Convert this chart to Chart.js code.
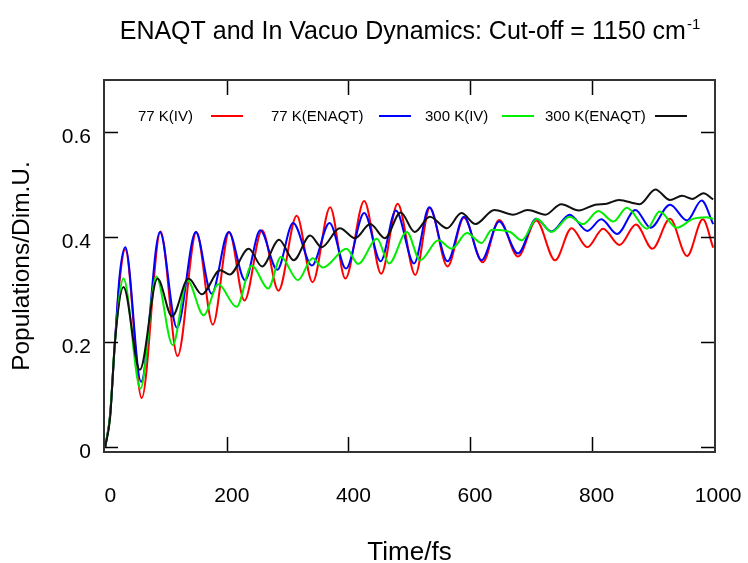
<!DOCTYPE html>
<html>
<head>
<meta charset="utf-8">
<title>ENAQT and In Vacuo Dynamics</title>
<script src="https://cdn.jsdelivr.net/npm/chart.js@4.4.1/dist/chart.umd.min.js"></script>
<style>
    html, body { margin: 0; padding: 0; background: #ffffff; }
    #wrap { width: 748px; height: 563px; position: relative; }
</style>
</head>
<body>
<div id="wrap"><canvas id="dynChart"></canvas></div>
<script>
// values (time in fs, population)
const xTicks = [0, 200, 400, 600, 800, 1000];
const yTicks = [0, 0.2, 0.4, 0.6];
const seriesLabels = ['77 K(IV)', '77 K(ENAQT)', '300 K(IV)', '300 K(ENAQT)'];
const seriesColors = ['#ff0000', '#0000ff', '#00ee00', '#111111'];

// 77 K, in vacuo
const ivColdT = [0, 8, 16, 24, 33, 60, 91, 119, 150, 177, 204, 229, 258, 285, 315, 341, 370, 395, 426, 454,
    481, 510, 534, 563, 590, 621, 648, 679, 709, 740, 767, 793, 819, 846, 873, 900, 929, 957, 983, 1000];
const ivColdP = [0, 0.06, 0.2, 0.32, 0.377, 0.093, 0.411, 0.173, 0.41, 0.233, 0.41, 0.279, 0.413, 0.298, 0.441, 0.314, 0.457, 0.321, 0.469, 0.33,
    0.464, 0.328, 0.456, 0.344, 0.437, 0.352, 0.433, 0.363, 0.432, 0.356, 0.417, 0.381, 0.416, 0.385, 0.424, 0.378, 0.435, 0.364, 0.434, 0.38];

// 77 K, ENAQT
const enColdT = [0, 8, 16, 24, 33, 59, 90, 118, 149, 175, 203, 230, 255, 283, 309, 340, 369, 396, 426, 453,
    478, 508, 533, 563, 590, 619, 648, 679, 709, 734, 764, 793, 816, 842, 872, 897, 929, 957, 981, 1000];
const enColdP = [0, 0.06, 0.2, 0.33, 0.381, 0.124, 0.41, 0.227, 0.41, 0.292, 0.41, 0.318, 0.413, 0.338, 0.427, 0.346, 0.427, 0.34, 0.446, 0.354,
    0.451, 0.35, 0.457, 0.354, 0.439, 0.356, 0.43, 0.369, 0.435, 0.411, 0.443, 0.412, 0.434, 0.406, 0.452, 0.418, 0.462, 0.432, 0.47, 0.425];

// 300 K, in vacuo
const ivHotT = [0, 8, 16, 30, 58, 84, 111, 135, 162, 186, 216, 241, 268, 289, 317, 341, 358, 397, 416, 447, 467,
    496, 518, 548, 570, 595, 619, 636, 666, 685, 710, 734, 764, 786, 811, 836, 858, 891, 912, 940, 967, 989, 1000];
const ivHotP = [0, 0.06, 0.2, 0.321, 0.111, 0.325, 0.194, 0.318, 0.251, 0.31, 0.267, 0.346, 0.302, 0.362, 0.318, 0.36, 0.342, 0.378, 0.349, 0.397, 0.35,
    0.41, 0.356, 0.394, 0.378, 0.408, 0.389, 0.414, 0.41, 0.394, 0.435, 0.41, 0.439, 0.425, 0.45, 0.43, 0.456, 0.416, 0.449, 0.418, 0.435, 0.438, 0.435];

// 300 K, ENAQT
const enHotT = [0, 8, 16, 30, 57, 86, 110, 137, 159, 189, 205, 236, 258, 286, 310, 337, 356, 386, 411, 436, 460, 486,
    509, 534, 562, 586, 609, 640, 671, 695, 724, 750, 779, 806, 825, 845, 879, 905, 929, 949, 966, 984, 1000];
const enHotP = [0, 0.055, 0.2, 0.305, 0.147, 0.321, 0.249, 0.321, 0.291, 0.337, 0.329, 0.378, 0.344, 0.395, 0.356, 0.403, 0.381, 0.417, 0.398, 0.425, 0.398, 0.447,
    0.41, 0.439, 0.417, 0.446, 0.425, 0.452, 0.443, 0.452, 0.443, 0.463, 0.451, 0.462, 0.464, 0.471, 0.463, 0.491, 0.471, 0.479, 0.473, 0.484, 0.472];

const seriesT = [ivColdT, enColdT, ivHotT, enHotT];
const seriesP = [ivColdP, enColdP, ivHotP, enHotP];

const FONT = '"Liberation Sans", Arial, Helvetica, sans-serif';

function toPoints(ts, ps) {
    return ts.map((t, i) => ({ x: t, y: ps[i] }));
}

// title with superscript, drawn like gnuplot does
const titlePlugin = {
    id: 'gnuTitle',
    afterDraw(chart) {
        const ctx = chart.ctx;
        const area = chart.chartArea;
        const main = 'ENAQT and In Vacuo Dynamics: Cut-off = 1150 cm';
        const sup = '-1';
        ctx.save();
        ctx.fillStyle = '#000';
        ctx.textBaseline = 'alphabetic';
        ctx.font = '25px ' + FONT;
        const wMain = ctx.measureText(main).width;
        ctx.font = '15px ' + FONT;
        const wSup = ctx.measureText(sup).width;
        let x = (area.left + area.right) / 2 - (wMain + wSup) / 2;
        ctx.font = '25px ' + FONT;
        ctx.fillText(main, x, 39);
        ctx.font = '15px ' + FONT;
        ctx.fillText(sup, x + wMain + 1, 29);
        ctx.restore();
    }
};

// key: text first, then the line sample
const keyPlugin = {
    id: 'gnuKey',
    afterDraw(chart) {
        const ctx = chart.ctx;
        const textX = [138, 271, 425, 545];
        const lineX = [211, 379, 502, 655];
        const y = 116;
        ctx.save();
        ctx.font = '15px ' + FONT;
        ctx.textBaseline = 'middle';
        chart.data.datasets.forEach((ds, i) => {
            ctx.fillStyle = '#000';
            ctx.fillText(ds.label, textX[i], y + 1);
            ctx.strokeStyle = ds.borderColor;
            ctx.lineWidth = 2;
            ctx.beginPath();
            ctx.moveTo(lineX[i], y);
            ctx.lineTo(lineX[i] + 32, y);
            ctx.stroke();
        });
        ctx.restore();
    }
};

// border box and inward ticks on all four sides
const framePlugin = {
    id: 'gnuFrame',
    afterDatasetsDraw(chart) {
        const ctx = chart.ctx;
        const a = chart.chartArea;
        const xs = chart.scales.x;
        const ys = chart.scales.y;
        ctx.save();
        ctx.strokeStyle = '#000';
        ctx.lineWidth = 1.5;
        ctx.beginPath();
        xTicks.forEach(v => {
            if (v <= 0 || v >= 1000) return;
            const px = Math.round(xs.getPixelForValue(v)) + 0.5;
            ctx.moveTo(px, a.bottom);
            ctx.lineTo(px, a.bottom - 15);
            ctx.moveTo(px, a.top);
            ctx.lineTo(px, a.top + 15);
        });
        yTicks.forEach(v => {
            const py = Math.round(ys.getPixelForValue(v)) + 0.5;
            ctx.moveTo(a.left, py);
            ctx.lineTo(a.left + 14, py);
            ctx.moveTo(a.right, py);
            ctx.lineTo(a.right - 14, py);
        });
        ctx.stroke();
        ctx.strokeStyle = '#333';
        ctx.lineWidth = 2;
        ctx.strokeRect(a.left, a.top, a.right - a.left, a.bottom - a.top);
        ctx.restore();
    }
};

const datasets = seriesLabels.map((label, i) => ({
    label: label,
    data: toPoints(seriesT[i], seriesP[i]),
    borderColor: seriesColors[i],
    borderWidth: 2,
    pointRadius: 0,
    fill: false,
    cubicInterpolationMode: 'monotone',
    order: 3 - i
}));

new Chart(document.getElementById('dynChart'), {
    type: 'line',
    data: { datasets: datasets },
    plugins: [titlePlugin, keyPlugin, framePlugin],
    options: {
        responsive: true,
        maintainAspectRatio: false,
        animation: false,
        layout: { padding: { top: 80, right: 33, bottom: 0, left: 0 } },
        plugins: {
            legend: { display: false },
            tooltip: { enabled: false },
            title: { display: false }
        },
        scales: {
            x: {
                type: 'linear',
                min: -2,
                max: 1003,
                afterBuildTicks: s => { s.ticks = xTicks.map(v => ({ value: v })); },
                afterFit: s => { s.height = 111; s.paddingLeft = 0; s.paddingRight = 0; },
                grid: { display: false, drawTicks: false },
                border: { display: false },
                ticks: {
                    color: '#000',
                    padding: 32,
                    labelOffset: 5,
                    maxRotation: 0,
                    font: { family: FONT, size: 21 },
                    callback: v => String(v)
                },
                title: {
                    display: true,
                    text: 'Time/fs',
                    color: '#000',
                    padding: { top: 0, bottom: 0 },
                    font: { family: FONT, size: 26, lineHeight: 0.8 }
                }
            },
            y: {
                type: 'linear',
                min: -0.01,
                max: 0.70,
                afterBuildTicks: s => { s.ticks = yTicks.map(v => ({ value: v })); },
                afterFit: s => { s.width = 104; s.paddingTop = 0; s.paddingBottom = 0; },
                grid: { display: false, drawTicks: false },
                border: { display: false },
                ticks: {
                    color: '#000',
                    padding: 13,
                    labelOffset: 5,
                    font: { family: FONT, size: 21 },
                    callback: v => (v === 0 ? '0' : v.toFixed(1))
                },
                title: {
                    display: true,
                    text: 'Populations/Dim.U.',
                    color: '#000',
                    padding: { top: 8, bottom: 0 },
                    font: { family: FONT, size: 24.5 }
                }
            }
        }
    }
});
</script>
</body>
</html>
